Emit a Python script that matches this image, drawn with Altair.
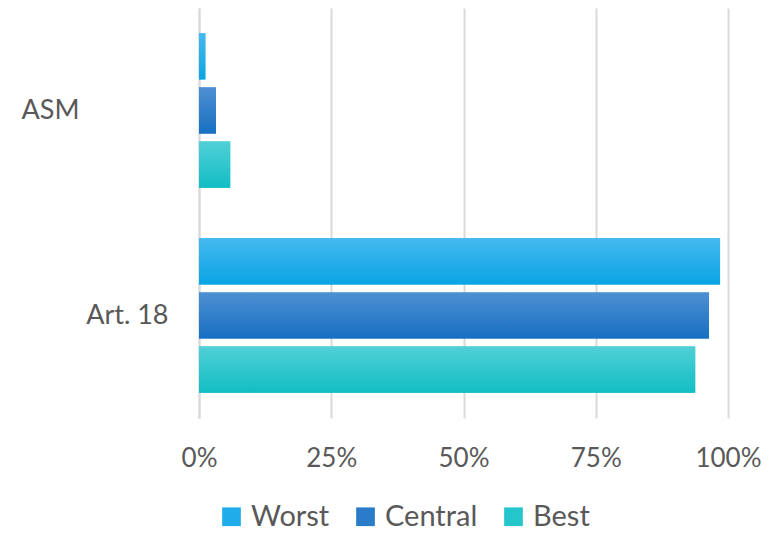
import altair as alt
import pandas as pd

categories = ["ASM", "Art. 18"]
series = ["Worst", "Central", "Best"]
worst = [1.2, 98.5]
central = [3.2, 96.4]
best = [5.9, 93.8]
x_ticks = [0, 25, 50, 75, 100]

solid = ["#20aceb", "#2a7cc9", "#24c6cc"]
grads = {
    "Worst": ("#45b9ee", "#0aa4e5"),
    "Central": ("#4f8fd3", "#176fc2"),
    "Best": ("#4fd0d6", "#13bdc4"),
}

rows = []
for i, c in enumerate(categories):
    for s, vals in zip(series, [worst, central, best]):
        rows.append({"cat": c, "series": s, "value": vals[i]})
df = pd.DataFrame(rows)

FONT = "Lato"
GREY = "#595959"

x_enc = alt.X("value:Q", scale=alt.Scale(domain=[0, 100], nice=False),
              axis=alt.Axis(values=x_ticks, labelExpr="datum.value + '%'",
                            title=None, domain=False, ticks=False,
                            grid=True, gridColor="#d9d9d9", gridWidth=2,
                            labelFont=FONT, labelFontSize=26, labelColor=GREY,
                            labelPadding=27, labelFlush=False))
y_enc = alt.Y("cat:N", sort=categories,
              scale=alt.Scale(paddingInner=0.247, paddingOuter=0.1235),
              axis=alt.Axis(title=None, ticks=False, domainColor="#d9d9d9",
                            domainWidth=2, labelFont=FONT, labelFontSize=27,
                            labelColor=GREY,
                            labelPadding={"condition": {"test": "datum.value == 'ASM'", "value": 120}, "value": 31}))
yoff = alt.YOffset("series:N", sort=series,
                   scale=alt.Scale(paddingInner=0.148, paddingOuter=0))

base = alt.Chart(df).mark_bar().encode(
    x=x_enc, y=y_enc, yOffset=yoff,
    color=alt.Color("series:N", sort=series,
                    scale=alt.Scale(domain=series, range=solid),
                    legend=alt.Legend(title=None, orient="none", direction="horizontal",
                                      legendX=18, legendY=494, symbolType="square",
                                      symbolSize=350, symbolStrokeWidth=0,
                                      labelFont=FONT, labelFontSize=29, labelColor=GREY,
                                      labelOffset=5, columnPadding=21, padding=0)),
)

layers = [base]
for s in series:
    top, bot = grads[s]
    g = alt.Gradient(gradient="linear", x1=0, x2=0, y1=0, y2=1,
                     stops=[alt.GradientStop(color=top, offset=0),
                            alt.GradientStop(color=bot, offset=1)])
    layers.append(
        alt.Chart(df).transform_filter(alt.datum.series == s).mark_bar(color=g).encode(
            x="value:Q", y=alt.Y("cat:N", sort=categories),
            yOffset=alt.YOffset("series:N", sort=series)
        )
    )

chart = alt.layer(*layers).properties(
    width=529, height=410,
    autosize=alt.AutoSizeParams(type="none"),
    padding={"left": 191, "top": 0, "right": 34, "bottom": 115},
).configure_view(stroke=None)

chart.save("out.html", embed_options={"renderer": "svg", "actions": False})
